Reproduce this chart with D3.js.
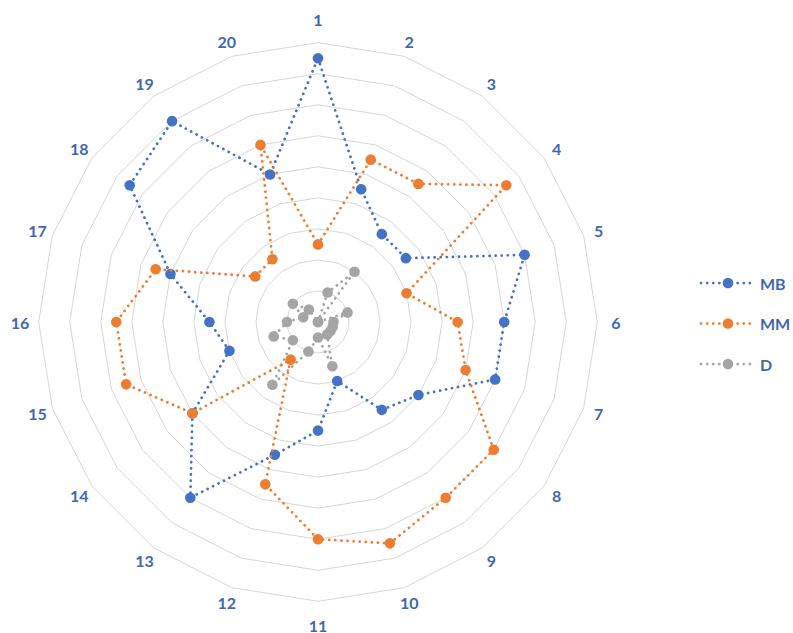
<!DOCTYPE html>
<html>
<head>
<meta charset="utf-8">
<script src="https://cdn.jsdelivr.net/npm/d3@7"></script>
<style>
  html, body { margin: 0; padding: 0; background: #ffffff; }
  svg { display: block; }
</style>
</head>
<body>
<svg id="chart" width="793" height="633"></svg>
<script>
// ---- data ----
const categories = ["1","2","3","4","5","6","7","8","9","10","11","12","13","14","15","16","17","18","19","20"];
const seriesNames = ["MB", "MM", "D"];
const MB = [8.5, 4.5, 3.5, 3.5, 7, 6, 6, 4, 3.5, 2, 3.5, 4.5, 7, 5, 3, 3.5, 5, 7.5, 8, 5];
const MM = [2.5, 5.5, 5.5, 7.5, 3, 4.5, 5, 7, 7, 7.5, 7, 5.5, 1.5, 5, 6.5, 6.5, 5.5, 2.5, 2.5, 6];
const D  = [0, 1, 2, 0, 1, 0.5, 0.5, 0.5, 0.5, 1.5, 0.5, 1, 2.5, 1, 1.5, 1, 0.5, 1, 0.5, 0];
const gridLevels = [1, 2, 3, 4, 5, 6, 7, 8, 9];
const maxValue = 9;

// ---- layout ----
const svg = d3.select("#chart");
const cx = 318, cy = 322, R = 279.3;
const colors = { MB: "#4472C4", MM: "#ED7D31", D: "#A5A5A5" };
const textColor = "#3F67B3";

const rScale = d3.scaleLinear().domain([0, maxValue]).range([0, R]);
const aScale = d3.scalePoint().domain(categories).range([0, 2 * Math.PI * (categories.length - 1) / categories.length]);

const g = svg.append("g").attr("transform", `translate(${cx},${cy})`);

// grid polygons
gridLevels.forEach(lv => {
  const line = d3.lineRadial()
    .angle(c => aScale(c))
    .radius(() => rScale(lv))
    .curve(d3.curveLinearClosed);
  g.append("path")
    .attr("d", line(categories))
    .attr("fill", "none")
    .attr("stroke", "#D6D6D6")
    .attr("stroke-width", 1);
});

// category labels
categories.forEach(c => {
  const a = aScale(c);
  const s = Math.sin(a), co = Math.cos(a);
  let rr = 295;
  if (Math.abs(co) > 0.99) rr = 303;
  else if (Math.abs(s) > 0.99) rr = 298;
  g.append("text")
    .attr("x", rr * s)
    .attr("y", -rr * co)
    .attr("text-anchor", "middle")
    .attr("dominant-baseline", "central")
    .attr("font-family", "Lato, 'Open Sans', sans-serif")
    .attr("font-weight", "bold")
    .attr("font-size", 16)
    .attr("fill", textColor)
    .text(c);
});

// series
const seriesData = { MB: MB, MM: MM, D: D };
const drawOrder = ["D", "MB", "MM"];

drawOrder.forEach(name => {
  const vals = seriesData[name];
  const pts = categories.map((c, i) => ({ c: c, v: vals[i] }));
  const line = d3.lineRadial()
    .angle(d => aScale(d.c))
    .radius(d => rScale(d.v))
    .curve(d3.curveLinearClosed);
  const sg = g.append("g");
  sg.append("path")
    .attr("d", line(pts))
    .attr("fill", "none")
    .attr("stroke", colors[name])
    .attr("stroke-width", 2.75)
    .attr("stroke-linecap", "round")
    .attr("stroke-dasharray", "0.1,6");
  sg.selectAll("circle")
    .data(pts)
    .enter().append("circle")
    .attr("cx", d => rScale(d.v) * Math.sin(aScale(d.c)))
    .attr("cy", d => -rScale(d.v) * Math.cos(aScale(d.c)))
    .attr("r", 5.3)
    .attr("fill", colors[name]);
});

// legend
const legendY = d3.scalePoint().domain(seriesNames).range([283, 364]);
const lg = svg.append("g");
seriesNames.forEach(name => {
  const y = legendY(name);
  lg.append("line")
    .attr("x1", 701).attr("x2", 754)
    .attr("y1", y).attr("y2", y)
    .attr("stroke", colors[name])
    .attr("stroke-width", 2.75)
    .attr("stroke-linecap", "round")
    .attr("stroke-dasharray", "0.1,6");
  lg.append("circle")
    .attr("cx", 728).attr("cy", y)
    .attr("r", 5.3)
    .attr("fill", colors[name]);
  lg.append("text")
    .attr("x", 760).attr("y", y)
    .attr("dominant-baseline", "central")
    .attr("font-family", "Lato, 'Open Sans', sans-serif")
    .attr("font-weight", "bold")
    .attr("font-size", 16)
    .attr("fill", textColor)
    .text(name);
});
</script>
</body>
</html>
